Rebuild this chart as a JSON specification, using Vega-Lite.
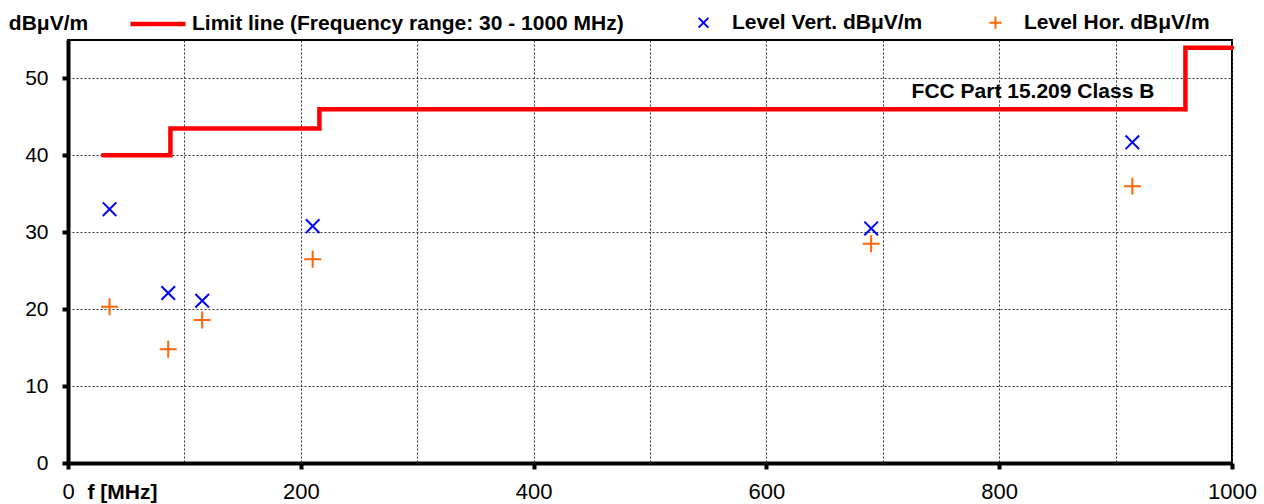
{
  "$schema": "https://vega.github.io/schema/vega-lite/v6.json",
  "width": 1164,
  "height": 423,
  "autosize": {"type": "none"},
  "padding": {"left": 68, "top": 40, "right": 32, "bottom": 41},
  "background": "white",
  "config": {
    "view": {"stroke": "black", "strokeWidth": 2},
    "font": "Liberation Sans"
  },
  "layer": [
    {
      "data": {"values": [
        {"f": 30, "limit": 40, "series": "Limit line (Frequency range: 30 - 1000 MHz)"},
        {"f": 88, "limit": 43.5, "series": "Limit line (Frequency range: 30 - 1000 MHz)"},
        {"f": 216, "limit": 46, "series": "Limit line (Frequency range: 30 - 1000 MHz)"},
        {"f": 960, "limit": 54, "series": "Limit line (Frequency range: 30 - 1000 MHz)"},
        {"f": 1000, "limit": 54, "series": "Limit line (Frequency range: 30 - 1000 MHz)"}
      ]},
      "mark": {"type": "line", "interpolate": "step-after", "strokeWidth": 4.5, "strokeCap": "round", "strokeJoin": "miter"},
      "encoding": {
        "x": {
          "field": "f", "type": "quantitative",
          "scale": {"domain": [0, 1000], "nice": false},
          "axis": {
            "values": [0, 100, 200, 300, 400, 500, 600, 700, 800, 900, 1000],
            "format": "d",
            "labelExpr": "datum.value % 200 === 0 ? datum.label : ''",
            "labelFontSize": 22, "labelColor": "black", "labelPadding": 12,
            "labelFlush": false,
            "tickColor": "black", "tickWidth": 4, "tickSize": 6,
            "tickOpacity": {"condition": {"test": "datum.value % 200 === 0", "value": 1}, "value": 0},
            "domainColor": "black", "domainWidth": 4,
            "grid": true, "gridColor": "#333333", "gridDash": [2, 2], "gridWidth": 1, "gridOpacity": 1,
            "title": "f [MHz]", "titleFontSize": 21, "titleFontWeight": "bold", "titleColor": "black",
            "titleX": 54, "titleY": 29, "titleAlign": "center", "titleBaseline": "middle"
          }
        },
        "y": {
          "field": "limit", "type": "quantitative",
          "scale": {"domain": [0, 55], "nice": false},
          "axis": {
            "values": [0, 5, 10, 15, 20, 25, 30, 35, 40, 45, 50, 55],
            "format": "d",
            "labelExpr": "datum.value % 10 === 0 ? datum.label : ''",
            "labelFontSize": 21, "labelColor": "black", "labelPadding": 14,
            "labelFlush": false,
            "tickColor": "black", "tickWidth": 4, "tickSize": 6,
            "tickOpacity": {"condition": {"test": "datum.value % 10 === 0 && datum.value < 55", "value": 1}, "value": 0},
            "domainColor": "black", "domainWidth": 4,
            "grid": true, "gridColor": "#333333", "gridDash": [2, 2], "gridWidth": 1, "gridOpacity": 1,
            "title": "dBμV/m", "titleFontSize": 21, "titleFontWeight": "bold", "titleColor": "black",
            "titleAngle": 0, "titleX": -20, "titleY": -17, "titleAlign": "center", "titleBaseline": "middle"
          }
        },
        "stroke": {
          "field": "series", "type": "nominal",
          "scale": {"range": ["#ff0000"]},
          "legend": {
            "orient": "none", "legendX": 60, "legendY": -46, "title": null,
            "symbolType": "stroke", "symbolSize": 3025, "symbolStrokeWidth": 4.5,
            "labelFontSize": 21, "labelFontWeight": "bold", "labelColor": "black", "labelOffset": 4,
            "labelLimit": 600
          }
        }
      }
    },
    {
      "data": {"values": [
        {"f": 35.7, "level": 33.0, "series": "Level Vert. dBμV/m"},
        {"f": 86.1, "level": 22.1, "series": "Level Vert. dBμV/m"},
        {"f": 115.3, "level": 21.1, "series": "Level Vert. dBμV/m"},
        {"f": 210.2, "level": 30.8, "series": "Level Vert. dBμV/m"},
        {"f": 690.0, "level": 30.5, "series": "Level Vert. dBμV/m"},
        {"f": 914.4, "level": 41.7, "series": "Level Vert. dBμV/m"},
        {"f": 35.7, "level": 20.3, "series": "Level Hor. dBμV/m"},
        {"f": 86.1, "level": 14.8, "series": "Level Hor. dBμV/m"},
        {"f": 115.3, "level": 18.6, "series": "Level Hor. dBμV/m"},
        {"f": 210.2, "level": 26.5, "series": "Level Hor. dBμV/m"},
        {"f": 690.0, "level": 28.5, "series": "Level Hor. dBμV/m"},
        {"f": 914.4, "level": 36.0, "series": "Level Hor. dBμV/m"}
      ]},
      "mark": {"type": "point", "filled": false, "strokeWidth": 2, "size": 289, "opacity": 1},
      "encoding": {
        "x": {"field": "f", "type": "quantitative"},
        "y": {"field": "level", "type": "quantitative"},
        "color": {
          "field": "series", "type": "nominal",
          "scale": {"domain": ["Level Vert. dBμV/m", "Level Hor. dBμV/m"], "range": ["#0000ff", "#ff6600"]},
          "legend": {
            "orient": "none", "legendX": 625, "legendY": -28, "title": null, "direction": "horizontal",
            "symbolSize": 150, "symbolStrokeWidth": 2,
            "labelFontSize": 21, "labelFontWeight": "bold", "labelColor": "black", "labelOffset": 18,
            "columnPadding": 62, "labelLimit": 400
          }
        },
        "shape": {
          "field": "series", "type": "nominal",
          "scale": {"domain": ["Level Vert. dBμV/m", "Level Hor. dBμV/m"], "range": ["M-0.8,-0.8L0.8,0.8M-0.8,0.8L0.8,-0.8", "M-1,0H1M0,-1V1"]},
          "legend": {
            "orient": "none", "legendX": 625, "legendY": -28, "title": null, "direction": "horizontal",
            "symbolSize": 150, "symbolStrokeWidth": 2,
            "labelFontSize": 21, "labelFontWeight": "bold", "labelColor": "black", "labelOffset": 18,
            "columnPadding": 62, "labelLimit": 400
          }
        }
      }
    },
    {
      "data": {"values": [{"f": 829, "level": 48.2, "label": "FCC Part 15.209 Class B"}]},
      "mark": {"type": "text", "fontSize": 21, "fontWeight": "bold", "color": "black", "align": "center", "baseline": "middle"},
      "encoding": {
        "x": {"field": "f", "type": "quantitative"},
        "y": {"field": "level", "type": "quantitative"},
        "text": {"field": "label"}
      }
    }
  ]
}
